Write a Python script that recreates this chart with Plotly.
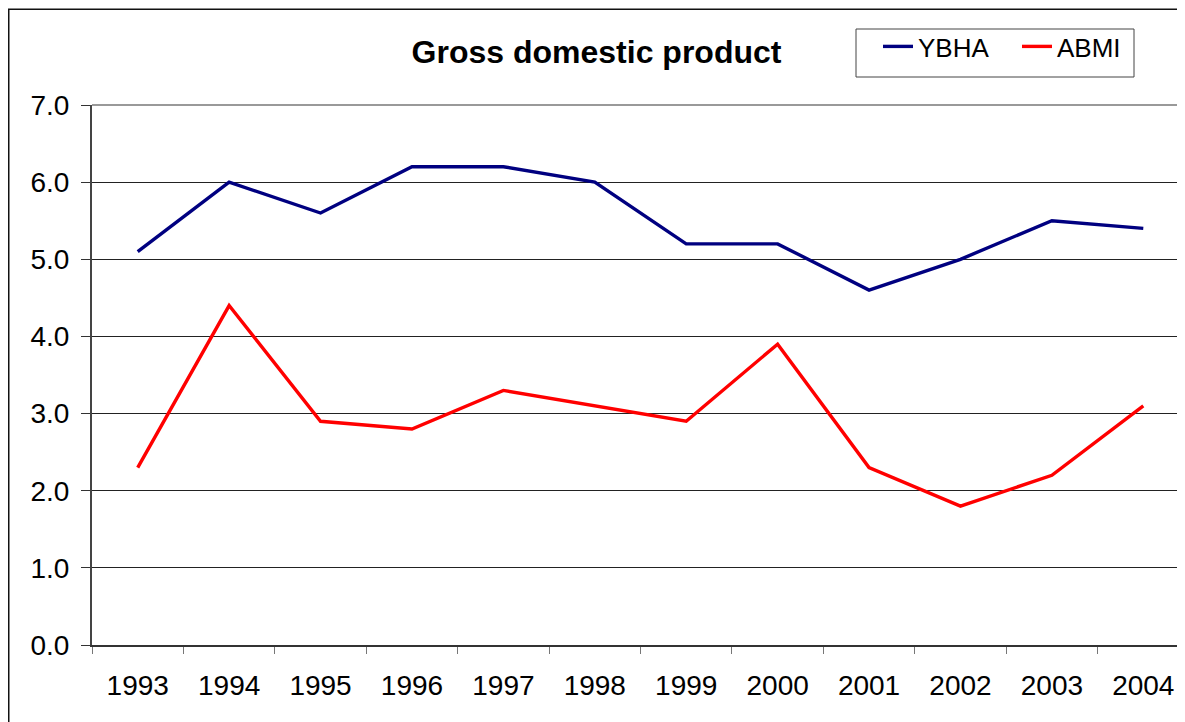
import plotly.graph_objects as go

years = ["1993", "1994", "1995", "1996", "1997", "1998", "1999", "2000", "2001", "2002", "2003", "2004"]
ybha = [5.1, 6.0, 5.6, 6.2, 6.2, 6.0, 5.2, 5.2, 4.6, 5.0, 5.5, 5.4]
abmi = [2.3, 4.4, 2.9, 2.8, 3.3, 3.1, 2.9, 3.9, 2.3, 1.8, 2.2, 3.1]
title_text = "Gross domestic product"

FONT = "Liberation Sans, Arial, sans-serif"

# page has an 8px body margin; positions below are figure coordinates
L, T, B, R = 84, 97, 85, 4
PW, PH = 1185 - L - R, 722 - T - B

def px(xf):
    return (xf - L) / PW

def py(yf):
    return (722 - B - yf) / PH

fig = go.Figure()
fig.add_trace(go.Scatter(x=years, y=ybha, mode="lines", name="YBHA",
                         line=dict(color="#000080", width=3.4)))
fig.add_trace(go.Scatter(x=years, y=abmi, mode="lines", name="ABMI",
                         line=dict(color="#FF0000", width=3.4)))

fig.update_layout(
    width=1185, height=722,
    margin=dict(l=L, r=R, t=T, b=B, pad=0),
    paper_bgcolor="white", plot_bgcolor="white",
    font=dict(family=FONT, color="black", size=28),
    title=dict(text="<b>" + title_text + "</b>", x=588.5 / 1185, xref="container", xanchor="center",
               y=1 - 44 / 722, yref="container", yanchor="middle",
               font=dict(family=FONT, size=32, color="black")),
    legend=dict(orientation="h", x=px(870), xanchor="left",
                y=py(15), yanchor="top",
                borderwidth=0, bgcolor="rgba(0,0,0,0)",
                font=dict(family=FONT, size=26, color="black"),
                entrywidth=94, entrywidthmode="pixels", tracegroupgap=0),
    showlegend=True,
)

fig.update_xaxes(type="category", range=[-0.5, 11.5], tickson="boundaries",
                 ticks="outside", ticklen=7, tickwidth=1, tickcolor="#777",
                 showgrid=False, showline=True, linecolor="#333", linewidth=2,
                 ticklabelstandoff=14, tickfont=dict(size=28), zeroline=False)
fig.update_yaxes(range=[0, 7], dtick=1, tickformat=".1f",
                 ticks="outside", ticklen=9, tickwidth=1, tickcolor="#333",
                 showgrid=True, gridcolor="#222", gridwidth=1,
                 showline=True, linecolor="#444", linewidth=2,
                 ticklabelstandoff=6, tickfont=dict(size=28), zeroline=False)

# top border of the plot area (light gray)
fig.add_shape(type="line", xref="paper", yref="paper", x0=0, x1=1, y0=1, y1=1,
              line=dict(color="#999", width=2), layer="above")
# legend frame
fig.add_shape(type="rect", xref="paper", yref="paper",
              x0=px(848), x1=px(1126), y0=py(69), y1=py(21),
              line=dict(color="#444", width=1), fillcolor="rgba(0,0,0,0)", layer="above")
# outer chart frame (extends beyond the visible crop on right/bottom)
fig.add_shape(type="rect", xref="paper", yref="paper",
              x0=px(0.75), x1=1.2, y0=-0.3, y1=py(1.25),
              line=dict(color="#111", width=1.5), fillcolor="rgba(0,0,0,0)", layer="below")

fig.write_html("out.html")
